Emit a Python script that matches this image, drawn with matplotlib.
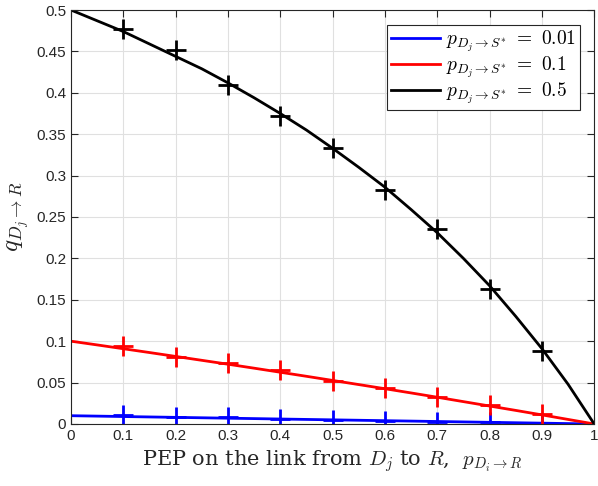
import matplotlib
matplotlib.use("Agg")
import matplotlib.pyplot as plt

plt.rcParams['mathtext.fontset'] = 'cm'
plt.rcParams['font.family'] = ['Liberation Sans', 'DejaVu Sans']

# analytical curves
x_line = [0, 0.05, 0.1, 0.15, 0.2, 0.25, 0.3, 0.35, 0.4, 0.45, 0.5,
          0.55, 0.6, 0.65, 0.7, 0.75, 0.8, 0.85, 0.9, 0.95, 1.0]
q_001 = [0.0100, 0.0095, 0.0090, 0.0085, 0.0080, 0.0075, 0.0070, 0.0065, 0.0060, 0.0055, 0.0050,
         0.0045, 0.0040, 0.0035, 0.0030, 0.0025, 0.0020, 0.0015, 0.0010, 0.0005, 0.0]
q_01 = [0.100, 0.0955, 0.0909, 0.0863, 0.0816, 0.0769, 0.0722, 0.0674, 0.0625, 0.0576, 0.0526,
        0.0476, 0.0426, 0.0375, 0.0323, 0.0270, 0.0217, 0.0164, 0.0110, 0.0055, 0.0]
q_05 = [0.500, 0.487, 0.474, 0.459, 0.444, 0.429, 0.412, 0.394, 0.375, 0.355, 0.333,
        0.310, 0.286, 0.259, 0.231, 0.200, 0.167, 0.130, 0.091, 0.048, 0.0]

# simulation points
x_sim = [0.1, 0.2, 0.3, 0.4, 0.5, 0.6, 0.7, 0.8, 0.9]
sim_001 = [0.0105, 0.0082, 0.0080, 0.0063, 0.0050, 0.0042, 0.0030, 0.0020, 0.0010]
sim_01 = [0.094, 0.081, 0.074, 0.065, 0.052, 0.043, 0.033, 0.023, 0.012]
sim_05 = [0.477, 0.452, 0.410, 0.372, 0.333, 0.283, 0.236, 0.163, 0.088]

labels = [r'$p_{D_j\to S^{*}}\ =\ 0.01$', r'$p_{D_j\to S^{*}}\ =\ 0.1$', r'$p_{D_j\to S^{*}}\ =\ 0.5$']
colors = ['#0000ff', '#ff0000', '#000000']

fig = plt.figure(figsize=(5.98, 4.86), dpi=100)
ax = fig.add_axes([0.1187, 0.1276, 0.8750, 0.8518])

for q, s, c, lab in zip([q_001, q_01, q_05], [sim_001, sim_01, sim_05], colors, labels):
    ax.plot(x_line, q, color=c, lw=2, label=lab)
    ax.plot(x_sim, s, linestyle='none', marker='+', ms=14, mew=2, color=c)

ax.set_xlim(0, 1)
ax.set_ylim(0, 0.5)
ax.set_xticks([0, 0.1, 0.2, 0.3, 0.4, 0.5, 0.6, 0.7, 0.8, 0.9, 1])
ax.set_xticklabels(['0', '0.1', '0.2', '0.3', '0.4', '0.5', '0.6', '0.7', '0.8', '0.9', '1'])
ax.set_yticks([0, 0.05, 0.1, 0.15, 0.2, 0.25, 0.3, 0.35, 0.4, 0.45, 0.5])
ax.set_yticklabels(['0', '0.05', '0.1', '0.15', '0.2', '0.25', '0.3', '0.35', '0.4', '0.45', '0.5'])
ax.tick_params(direction='in', length=5, width=0.8, labelsize=11, colors='#262626',
               top=True, right=True)
ax.grid(True, color='#e0e0e0', lw=0.8)
ax.set_axisbelow(True)
for sp in ax.spines.values():
    sp.set_color('#262626')
    sp.set_linewidth(0.8)

ax.set_xlabel(r'PEP on the link from $D_j$ to $R$,  $p_{D_i\to R}$',
              family='serif', fontsize=15, color='#262626', labelpad=4)
ax.set_ylabel(r'$q_{D_j\to R}$', fontsize=18, color='#262626', labelpad=4)

leg = ax.legend(loc='upper right', bbox_to_anchor=(0.972, 0.965), borderaxespad=0,
                fancybox=False, edgecolor='#262626', fontsize=14, handlelength=2.5,
                handletextpad=0.3, labelspacing=0.02, borderpad=0.2)
leg.get_frame().set_linewidth(0.8)
leg.get_frame().set_alpha(1)

fig.savefig('out.png', dpi=100)
